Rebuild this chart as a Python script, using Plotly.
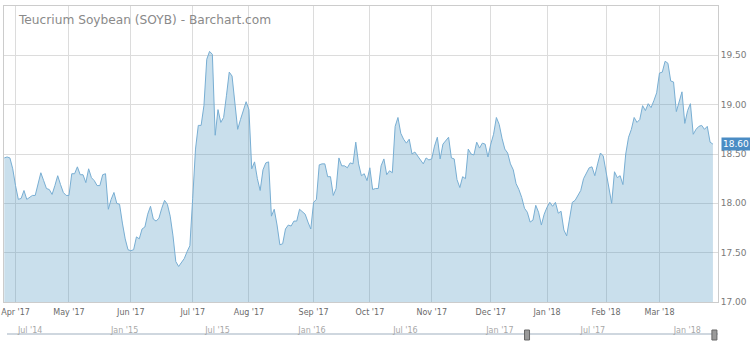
import pandas as pd
import plotly.graph_objects as go

# ---------------- data ----------------
start_date = "2017-03-28"
end_date = "2018-03-28"
market_holidays = ["2017-04-14", "2017-05-29", "2017-07-04", "2017-09-04",
                   "2017-11-23", "2017-12-25", "2018-01-01", "2018-01-15",
                   "2018-02-19"]

close_prices = [
    18.46, 18.47, 18.46, 18.35, 18.18, 18.04, 18.05, 18.13, 18.04, 18.06,
    18.08, 18.08, 18.19, 18.31, 18.23, 18.15, 18.14, 18.09, 18.18, 18.28,
    18.19, 18.11, 18.08, 18.08, 18.30, 18.30, 18.37, 18.29, 18.29, 18.21,
    18.35, 18.26, 18.23, 18.18, 18.18, 18.29, 18.30, 17.94, 18.04, 18.11,
    18.00, 17.99, 17.80, 17.64, 17.53, 17.52, 17.53, 17.66, 17.64, 17.74,
    17.76, 17.89, 17.97, 17.84, 17.82, 17.85, 17.95, 18.03, 17.99, 17.87,
    17.67, 17.41, 17.36, 17.40, 17.44, 17.51, 17.57,
    18.05,
    18.55, 18.79, 18.79, 18.99, 19.46, 19.54, 19.51, 18.69, 18.95, 18.82,
    18.87, 19.09, 19.33, 19.29, 18.99, 18.75, 18.85, 18.95, 19.03, 18.95,
    18.35, 18.42, 18.25, 18.13, 18.34, 18.41, 18.42, 17.87, 17.94, 17.78,
    17.58, 17.59, 17.74, 17.78, 17.77, 17.82, 17.82, 17.94, 17.91, 17.89,
    17.81, 17.74, 18.01, 18.04, 18.39, 18.40, 18.40, 18.27, 18.27, 18.08,
    18.15, 18.46, 18.38, 18.38, 18.36, 18.41, 18.40, 18.62, 18.40,
    18.28, 18.30, 18.23, 18.36, 18.14, 18.15, 18.15, 18.38, 18.45, 18.29,
    18.33, 18.31, 18.78, 18.87, 18.71, 18.65, 18.61, 18.65, 18.50, 18.52,
    18.48, 18.45, 18.40, 18.46, 18.44, 18.45, 18.58, 18.67, 18.45, 18.60,
    18.63, 18.67, 18.46, 18.45, 18.24, 18.16, 18.27, 18.25, 18.55, 18.50,
    18.49, 18.62, 18.56, 18.61, 18.60, 18.47, 18.60, 18.70, 18.87, 18.80,
    18.66,
    18.55, 18.51, 18.40, 18.34, 18.20, 18.14, 18.06, 17.95, 17.91, 17.81,
    17.83, 17.98, 17.91, 17.78, 17.89, 17.96, 18.01,
    17.97, 18.01, 17.90, 17.92, 17.73, 17.67, 17.84, 18.01, 18.03, 18.08,
    18.13, 18.25, 18.31, 18.36, 18.37, 18.28, 18.40, 18.51, 18.48, 18.31,
    18.15, 18.00, 18.32, 18.26, 18.28, 18.19, 18.50, 18.67, 18.75, 18.87,
    18.82, 18.85, 18.99, 18.94, 19.01, 18.97, 19.04, 19.12, 19.32, 19.33,
    19.44, 19.42, 19.24, 19.23, 18.93, 19.02, 19.13, 18.81, 18.94, 19.01,
    18.70, 18.75, 18.78, 18.79, 18.75, 18.78, 18.62, 18.60,
]

price_ticks = [17.0, 17.5, 18.0, 18.5, 19.0, 19.5]
nav_tick_dates = ["2014-07-01", "2015-01-01", "2015-07-01", "2016-01-01",
                  "2016-07-01", "2017-01-01", "2017-07-01", "2018-01-01"]
nav_tick_labels = ["Jul '14", "Jan '15", "Jul '15", "Jan '16",
                   "Jul '16", "Jan '17", "Jul '17", "Jan '18"]
title_text = "Teucrium Soybean (SOYB) - Barchart.com"

# ---------------- derived ----------------
all_days = pd.bdate_range(start_date, end_date)
hol = pd.to_datetime(market_holidays)
dates = [d for d in all_days if d not in hol]
n = min(len(dates), len(close_prices))
dates = dates[:n]
prices = close_prices[:n]
idx = list(range(n))

month_tickvals, month_ticktext = [], []
for i in range(1, n):
    if dates[i].month != dates[i - 1].month:
        month_tickvals.append(i)
        month_ticktext.append(dates[i].strftime("%b '%y"))

# ---------------- geometry helpers ----------------
W, H = 750, 346
ML, MR, MT, MB = 4, 32, 6, 2
PW, PH = W - ML - MR, H - MT - MB


def xp(px):
    return (px - ML) / PW


def yp(px):
    return (H - MB - px) / PH


px_per_day = 2.812
x0 = -0.1
x1 = x0 + PW / px_per_day

FONT = "DejaVu Sans"

fig = go.Figure()
fig.add_trace(go.Scatter(
    x=idx, y=prices, mode="lines",
    line=dict(color="#78aed3", width=1),
    fill="tozeroy", fillcolor="rgba(75,148,192,0.30)",
    hoverinfo="skip", showlegend=False,
))

nav_end = dates[-1] + pd.Timedelta(days=7)
nav_start = nav_end - pd.Timedelta(days=1385)
fig.add_trace(go.Scatter(
    x=[dates[0], dates[-1]], y=[0.5, 0.5], mode="markers",
    marker=dict(opacity=0), xaxis="x2", yaxis="y2",
    hoverinfo="skip", showlegend=False,
))

fig.update_layout(
    width=W, height=H,
    margin=dict(l=ML, r=MR, t=MT, b=MB, pad=0, autoexpand=False),
    paper_bgcolor="white", plot_bgcolor="white",
    font=dict(family=FONT, color="#777"),
    xaxis=dict(
        range=[x0, x1], domain=[0, 1], anchor="y",
        tickmode="array", tickvals=month_tickvals, ticktext=month_ticktext,
        showgrid=True, gridcolor="#dcdcdc", gridwidth=1,
        showline=True, linecolor="#cccccc", linewidth=1, mirror=True,
        ticks="", zeroline=False, automargin=False, ticklabelstandoff=2,
        tickfont=dict(family=FONT, size=8, color="#6a6a6a"),
    ),
    yaxis=dict(
        range=[17, 20], domain=[yp(302), 1], anchor="x", side="right",
        tickmode="array", tickvals=price_ticks, tickformat=".2f",
        showgrid=True, gridcolor="#dcdcdc", gridwidth=1,
        showline=True, linecolor="#cccccc", linewidth=1, mirror=True,
        ticks="", zeroline=False, automargin=False,
        tickfont=dict(family=FONT, size=9, color="#7a7a7a"),
    ),
    xaxis2=dict(
        type="date", range=[nav_start, nav_end], domain=[xp(7), 1],
        anchor="y2", side="top",
        tickmode="array", tickvals=nav_tick_dates, ticktext=nav_tick_labels,
        showgrid=False, showline=True, linecolor="#cfd7df", linewidth=2,
        ticks="", zeroline=False, ticklabelshift=17, ticklabelstandoff=-3,
        automargin=False,
        tickfont=dict(family=FONT, size=8, color="#a8a8a8"),
    ),
    yaxis2=dict(
        range=[0, 1], domain=[yp(340), yp(335)], anchor="x2",
        visible=False, fixedrange=True,
    ),
    annotations=[
        dict(text=title_text, xref="paper", yref="paper",
             x=xp(16), y=yp(20), xanchor="left", yanchor="middle",
             showarrow=False,
             font=dict(family=FONT, size=12.2, color="#8a8a8a")),
        dict(text=f"{prices[-1]:.2f}", xref="paper", yref="y",
             x=1, y=prices[-1], xanchor="left", yanchor="middle",
             xshift=3, showarrow=False, bgcolor="#4a8cc4", borderpad=1,
             font=dict(family=FONT, size=9, color="white")),
    ],
    shapes=[
        dict(type="rect", xref="x2", yref="paper",
             xsizemode="pixel", xanchor=d, x0=-2.5, x1=2.5,
             ysizemode="pixel", yanchor=yp(335), y0=-5, y1=5,
             fillcolor="#9a9a9a", line=dict(color="#666666", width=1))
        for d in (dates[0], dates[-1])
    ],
)

fig.write_html("out.html")
